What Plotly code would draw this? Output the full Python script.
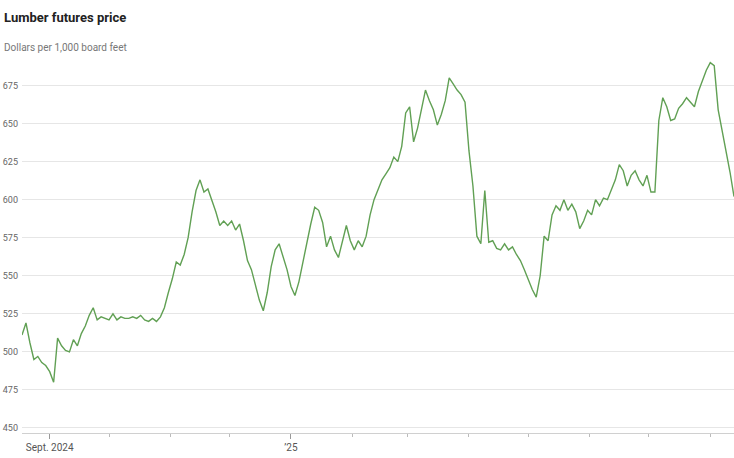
import plotly.graph_objects as go

dates = [
    "2024-08-18", "2024-08-20", "2024-08-22", "2024-08-24", "2024-08-26", "2024-08-28", "2024-08-30",
    "2024-09-01", "2024-09-03", "2024-09-05", "2024-09-07", "2024-09-09", "2024-09-11", "2024-09-13",
    "2024-09-15", "2024-09-17", "2024-09-19", "2024-09-21", "2024-09-23", "2024-09-25", "2024-09-27", "2024-09-29",
    "2024-10-01", "2024-10-03", "2024-10-05", "2024-10-07", "2024-10-09", "2024-10-11", "2024-10-13", "2024-10-15",
    "2024-10-17", "2024-10-19", "2024-10-21", "2024-10-23", "2024-10-25", "2024-10-27", "2024-10-29", "2024-10-31",
    "2024-11-02", "2024-11-04", "2024-11-06", "2024-11-08", "2024-11-10", "2024-11-12", "2024-11-14", "2024-11-16",
    "2024-11-18", "2024-11-20", "2024-11-22", "2024-11-24", "2024-11-26", "2024-11-28", "2024-11-30",
    "2024-12-02", "2024-12-04", "2024-12-06", "2024-12-08", "2024-12-10", "2024-12-12", "2024-12-14", "2024-12-16",
    "2024-12-18", "2024-12-20", "2024-12-22", "2024-12-24", "2024-12-26", "2024-12-28", "2024-12-30",
    "2025-01-01", "2025-01-03", "2025-01-05", "2025-01-07", "2025-01-09", "2025-01-11", "2025-01-13", "2025-01-15",
    "2025-01-17", "2025-01-19", "2025-01-21", "2025-01-23", "2025-01-25", "2025-01-27", "2025-01-29", "2025-01-31",
    "2025-02-02", "2025-02-04", "2025-02-06", "2025-02-08", "2025-02-10", "2025-02-12", "2025-02-14", "2025-02-16",
    "2025-02-18", "2025-02-20", "2025-02-22", "2025-02-24", "2025-02-26", "2025-02-28",
    "2025-03-02", "2025-03-04", "2025-03-06", "2025-03-08", "2025-03-10", "2025-03-12", "2025-03-14", "2025-03-16",
    "2025-03-18", "2025-03-20", "2025-03-22", "2025-03-24", "2025-03-26", "2025-03-28", "2025-03-30",
    "2025-04-01", "2025-04-03", "2025-04-05", "2025-04-07", "2025-04-09", "2025-04-11", "2025-04-13", "2025-04-15",
    "2025-04-17", "2025-04-19", "2025-04-21", "2025-04-23", "2025-04-25", "2025-04-27", "2025-04-29",
    "2025-05-01", "2025-05-03", "2025-05-05", "2025-05-07", "2025-05-09", "2025-05-11", "2025-05-13", "2025-05-15",
    "2025-05-17", "2025-05-19", "2025-05-21", "2025-05-23", "2025-05-25", "2025-05-27", "2025-05-29", "2025-05-31",
    "2025-06-02", "2025-06-04", "2025-06-06", "2025-06-08", "2025-06-10", "2025-06-12", "2025-06-14", "2025-06-16",
    "2025-06-18", "2025-06-20", "2025-06-22", "2025-06-24", "2025-06-26", "2025-06-28", "2025-06-30",
    "2025-07-02", "2025-07-04", "2025-07-06", "2025-07-08", "2025-07-10", "2025-07-12", "2025-07-14", "2025-07-16",
    "2025-07-18", "2025-07-20", "2025-07-22", "2025-07-24", "2025-07-26", "2025-07-28", "2025-07-30",
    "2025-08-01", "2025-08-03", "2025-08-05", "2025-08-07", "2025-08-09", "2025-08-11", "2025-08-13",
]

prices = [
    511, 519, 506, 495, 497, 493, 491, 487, 480, 509,
    504, 501, 500, 508, 504, 512, 517, 524, 529, 521,
    523, 522, 521, 525, 521, 523, 522, 522, 523, 522,
    524, 521, 520, 522, 520, 523, 529, 539, 548, 559,
    557, 564, 575, 592, 606, 613, 605, 607, 600, 592,
    583, 586, 583, 586, 580, 584, 573, 560, 554, 544,
    534, 527, 539, 556, 567, 571, 563, 554, 543, 537,
    546, 559, 573, 584, 595, 593, 585, 569, 576, 567,
    562, 572, 583, 573, 567, 573, 569, 576, 590, 600,
    606, 613, 617, 621, 628, 625, 635, 657, 661, 638,
    647, 660, 672, 665, 659, 649, 656, 665, 680, 676,
    672, 669, 664, 632, 609, 576, 571, 606, 572, 573,
    568, 567, 571, 567, 569, 564, 560, 554, 547, 541,
    536, 550, 576, 573, 590, 596, 593, 600, 593, 597,
    592, 581, 586, 593, 590, 600, 596, 601, 600, 606,
    613, 623, 619, 609, 616, 619, 613, 609, 616, 605,
    605, 652, 667, 661, 652, 653, 660, 663, 667, 664,
    661, 671, 678, 685, 690, 688, 659, 646, 632, 618, 602,
]

y_ticks = [450, 475, 500, 525, 550, 575, 600, 625, 650, 675]
x_tick_vals = ["2024-09-01", "2025-01-01"]
x_tick_text = ["Sept. 2024", "’25"]

title_text = "Lumber futures price"
subtitle_text = "Dollars per 1,000 board feet"

fig = go.Figure()
fig.add_trace(go.Scatter(
    x=dates, y=prices, mode="lines",
    line=dict(color="#61a054", width=1.4),
    hoverinfo="skip",
))

fig.update_layout(
    width=734, height=458,
    margin=dict(l=22, r=0, t=52, b=25),
    paper_bgcolor="white", plot_bgcolor="white",
    showlegend=False,
    font=dict(family="Roboto, Liberation Sans, sans-serif", color="#666666", size=11),
    xaxis=dict(
        range=["2024-08-18", "2025-08-13"],
        tickvals=x_tick_vals, ticktext=x_tick_text,
        ticks="outside", ticklen=5, tickcolor="#999999", tickwidth=1,
        minor=dict(dtick="M1", tick0="2024-09-01", ticks="outside", ticklen=3,
                   tickcolor="#bbbbbb", showgrid=False),
        showgrid=False, zeroline=False,
        showline=True, linecolor="#d0d0d0", linewidth=1,
        tickfont=dict(size=10, color="#555555"),
        automargin=False,
        fixedrange=True,
    ),
    yaxis=dict(
        range=[446.7, 697],
        tickvals=y_ticks,
        showgrid=True, gridcolor="#e6e6e6", gridwidth=1,
        zeroline=False, showline=False, ticks="",
        ticklabelstandoff=3,
        tickfont=dict(size=9, color="#666666"),
        automargin=False,
        fixedrange=True,
    ),
    annotations=[
        dict(text="<b>" + title_text + "</b>", xref="paper", yref="paper",
             x=0, y=1, xanchor="left", yanchor="middle", xshift=-20, yshift=35,
             showarrow=False, font=dict(size=13, color="#222222")),
        dict(text=subtitle_text, xref="paper", yref="paper",
             x=0, y=1, xanchor="left", yanchor="middle", xshift=-20, yshift=5,
             showarrow=False, font=dict(size=10, color="#777777")),
    ],
)

fig.write_html("out.html", config={"displayModeBar": False, "staticPlot": True},
               post_script="document.body.style.margin='0';")
